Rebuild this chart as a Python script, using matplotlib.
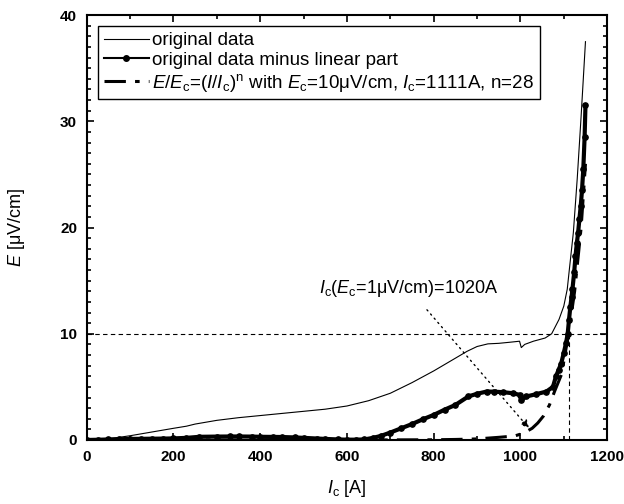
import matplotlib
matplotlib.use("Agg")
import matplotlib.pyplot as plt
from matplotlib.ticker import MultipleLocator
from matplotlib.lines import Line2D

plt.rcParams['font.family'] = ['Liberation Sans', 'DejaVu Sans']
plt.rcParams['mathtext.fontset'] = 'custom'
plt.rcParams['mathtext.rm'] = 'Liberation Sans'
plt.rcParams['mathtext.it'] = 'Liberation Sans:italic'
plt.rcParams['mathtext.bf'] = 'Liberation Sans:bold'

# original data (thin line)
I_orig = [0, 40, 100, 150, 200, 230, 250, 300, 350, 400, 450, 500, 550, 600, 650,
          700, 750, 800, 850, 877, 900, 925, 950, 975, 998, 1002, 1010, 1030, 1057,
          1072, 1089, 1100, 1108, 1114, 1118, 1122, 1131, 1140, 1150]
E_orig = [0, 0.05, 0.4, 0.75, 1.1, 1.3, 1.5, 1.85, 2.1, 2.3, 2.5, 2.7, 2.9, 3.2, 3.7,
          4.4, 5.4, 6.5, 7.7, 8.35, 8.8, 9.05, 9.1, 9.2, 9.3, 8.7, 9.0, 9.3, 9.6,
          10.0, 11.35, 12.6, 14.2, 16.5, 18.0, 19.5, 24.6, 30.5, 37.5]

# original data minus linear part (thick, dots)
I_sub = [0, 25, 50, 75, 100, 125, 150, 175, 200, 230, 260, 300, 330, 350, 380, 400, 430,
         450, 480, 500, 530, 550, 580, 600, 620, 640, 660, 678, 700, 725, 750, 775, 800,
         825, 850, 880, 900, 922, 940, 960, 983, 998, 1002, 1014, 1035, 1060, 1075,
         1082, 1088, 1094, 1100, 1105, 1109, 1112, 1115, 1118, 1120, 1124, 1127, 1130,
         1133, 1136, 1139, 1142, 1145, 1148, 1150]
E_sub = [0, 0.02, 0.05, 0.07, 0.1, 0.11, 0.12, 0.13, 0.15, 0.2, 0.3, 0.32, 0.33, 0.33, 0.32,
         0.3, 0.29, 0.28, 0.24, 0.2, 0.14, 0.1, 0.05, 0.03, 0.03, 0.05, 0.2, 0.38, 0.7, 1.1,
         1.5, 1.95, 2.36, 2.85, 3.3, 4.1, 4.35, 4.56, 4.55, 4.5, 4.4, 4.25, 3.77, 4.1, 4.3,
         4.56, 5.0, 6.0, 6.6, 7.2, 8.2, 9.1, 10.0, 11.3, 12.5, 13.5, 14.2, 15.8, 17.3,
         18.5, 19.5, 20.8, 22.0, 23.5, 25.5, 28.5, 31.5]

# power law fit E/Ec=(I/Ic)^n
I_fit = [0, 600, 700, 800, 850, 900, 950, 987, 1000, 1014, 1027, 1040, 1053, 1067, 1079,
         1095, 1111, 1125, 1140, 1150]
E_fit = [0, 0, 0.01, 0.02, 0.05, 0.1, 0.25, 0.38, 0.55, 0.8, 1.1, 1.6, 2.25, 3.3, 4.6,
         6.2, 10.0, 14.0, 20.0, 26.0]

fig = plt.figure(figsize=(6.24, 5.04), dpi=100)
ax = fig.add_axes([0.139, 0.127, 0.834, 0.843])

ax.axhline(10, color='k', lw=0.8, ls=(0, (4, 3)))
ax.plot([1111, 1111], [0, 10], color='k', lw=0.8, ls=(0, (4, 3)))

ax.plot(I_orig, E_orig, color='k', lw=0.8)
ax.plot(I_sub, E_sub, color='k', lw=3.0, marker='o', ms=3.8)
ax.plot(I_fit, E_fit, color='k', lw=2.2, ls=(0, (7, 3, 1.5, 3)))

handles = [
    Line2D([], [], color='k', lw=0.8),
    Line2D([], [], color='k', lw=1.5, marker='o', ms=4),
    Line2D([], [], color='k', lw=2.2, ls=(0, (7, 3, 1.5, 3))),
]
labels = [
    'original data',
    'original data minus linear part',
    r'$E$/$E_\mathrm{c}$=($I$/$I_\mathrm{c}$)$^\mathrm{n}$ with $E_\mathrm{c}$=10μV/cm, $I_\mathrm{c}$=1111A, n=28',
]

ax.annotate(r'$I_\mathrm{c}$($E_\mathrm{c}$=1μV/cm)=1020A', xy=(1020, 1.1), xytext=(535, 14.3),
            fontsize=13, va='center', ha='left',
            arrowprops=dict(arrowstyle='-|>', color='k', lw=1.0, ls=(0, (1, 3)),
                            shrinkA=8, shrinkB=0, mutation_scale=12))

ax.set_xlim(0, 1200)
ax.set_ylim(0, 40)
ax.xaxis.set_major_locator(MultipleLocator(200))
ax.xaxis.set_minor_locator(MultipleLocator(100))
ax.yaxis.set_major_locator(MultipleLocator(10))
ax.yaxis.set_minor_locator(MultipleLocator(1))
ax.tick_params(which='both', direction='in', top=True, right=True, width=1.2)
ax.tick_params(which='major', length=5, labelsize=11, pad=7)
ax.tick_params(which='minor', length=3)
for lab in ax.get_xticklabels() + ax.get_yticklabels():
    lab.set_fontweight('bold')
for sp in ax.spines.values():
    sp.set_linewidth(1.5)

ax.set_xlabel(r'$I_\mathrm{c}$ [A]', fontsize=13, labelpad=10)
ax.set_ylabel(r'$E$ [μV/cm]', fontsize=13, labelpad=24)

leg = ax.legend(handles, labels, loc='upper left', fontsize=13.5, frameon=True, fancybox=False,
                edgecolor='k', framealpha=1, borderaxespad=0.6, borderpad=0.3,
                handlelength=2.4, handletextpad=0.2, labelspacing=0.15)
leg.get_frame().set_linewidth(1.0)

fig.savefig('out.png', dpi=100)
